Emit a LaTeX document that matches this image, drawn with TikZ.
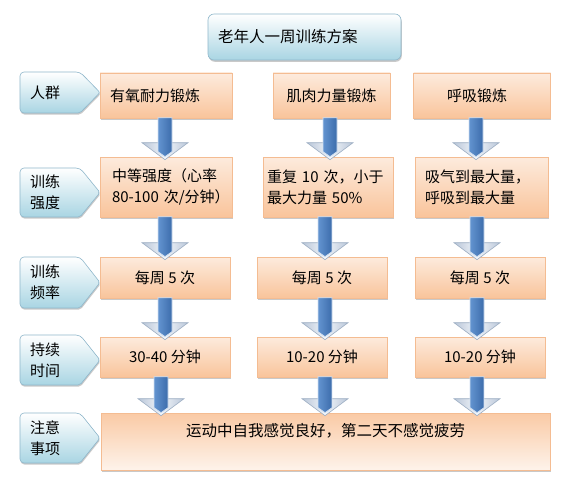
\documentclass[tikz,border=0pt]{standalone}
\usepackage{fontspec}
\setmainfont{Noto Sans CJK SC}
\usetikzlibrary{shadows,calc}
\definecolor{otop}{HTML}{FDEBDD}
\definecolor{obot}{HTML}{F9C49B}
\definecolor{oline}{HTML}{F4BC92}
\definecolor{btop}{HTML}{FFFFFF}
\definecolor{bbot}{HTML}{A9D5E3}
\definecolor{bline}{HTML}{8FB7CB}
\definecolor{shaftL}{HTML}{6394D0}
\definecolor{shaftR}{HTML}{3C6CAB}
\definecolor{headL}{HTML}{F4F6FA}
\definecolor{headD}{HTML}{B9C7D9}
\definecolor{headline}{HTML}{9DAEC3}
\tikzset{
  txt/.style={font=\fontsize{15}{21}\selectfont, text=black},
  obox/.style={txt, draw=oline, line width=0.6pt, top color=otop, bottom color=obot,
     drop shadow={shadow xshift=0.6pt, shadow yshift=-1.6pt, opacity=0.35, fill=black!60},
     inner sep=0pt},
  lshape/.style={draw=bline, line width=0.6pt, top color=btop, bottom color=bbot,
     drop shadow={shadow xshift=0.6pt, shadow yshift=-1.6pt, opacity=0.35, fill=black!60}},
  ltext/.style={txt, anchor=west, inner sep=0pt, align=left},
  titlebox/.style={txt, font=\fontsize{15.5}{20}\selectfont, draw=bline, line width=0.6pt,
     rounded corners=6pt, top color=btop, bottom color=bbot,
     drop shadow={shadow xshift=0.8pt, shadow yshift=-1.8pt, opacity=0.35, fill=black!60}},
}
% pentagon label: #1 name, #2 top y, #3 bottom y, #4 text
\newcommand\lablock[4]{%
  \path[lshape] (20,#2) [rounded corners=4pt] -- (80,#2) [rounded corners=2pt] -- (100,{(#2+#3)/2})
     [rounded corners=2pt]-- (80,#3) [rounded corners=4pt] -- (20,#3) -- cycle;
  \node[ltext] (#1) at (30,{(#2+#3)/2}) {#4};
}
% arrow: #1 x (px), #2 from node, #3 to node
\newcommand\flowarrow[3]{%
  \path let \p1=(#2.south), \p2=(#3.north) in
    [draw=headline, line width=0.6pt, left color=headD, right color=headD, middle color=headL]
      ({#1pt-23pt},{\y2+14pt}) -- ({#1pt+23pt},{\y2+14pt}) -- ({#1pt},{\y2-3pt}) -- cycle;
  \path let \p1=(#2.south), \p2=(#3.north) in
    [draw=white!70!shaftL, line width=0.8pt, left color=shaftL, right color=shaftR]
      ({#1pt-7pt},{\y1+0.5pt}) -- ({#1pt+7pt},{\y1+0.5pt}) -- ({#1pt+7pt},{\y2+5pt})
      -- ({#1pt},{\y2+0pt}) -- ({#1pt-7pt},{\y2+5pt}) -- cycle;
}
\begin{document}
\begin{tikzpicture}[x=1pt,y=-1pt]
\useasboundingbox[fill=white] (0,0) rectangle (567,484);

% title
\node[titlebox, minimum width=193pt, minimum height=46pt, text width=173pt, inner xsep=10pt, align=left]
  (title) at (304.5,37) {老年人一周训练方案};

% labels
\lablock{l1}{72}{113}{人群}
\lablock{l2}{168}{217}{训练\\强度}
\lablock{l3}{257}{308}{训练\\频率}
\lablock{l4}{335}{385}{持续\\时间}
\lablock{l5}{413}{463}{注意\\事项}

% row 1
\node[obox, minimum width=132pt, minimum height=45pt, text width=112pt, align=left] (a1) at (166,95.5) {有氧耐力锻炼};
\node[obox, minimum width=117pt, minimum height=45pt] (b1) at (331.5,95.5) {肌肉力量锻炼};
\node[obox, minimum width=137pt, minimum height=45pt] (c1) at (482,95.5) {\hspace*{-10pt}呼吸锻炼};

% row 2
\node[obox, minimum width=132pt, minimum height=60pt, text width=128pt, align=left] (a2) at (166,187)
  {\hspace*{10pt}\mbox{中等强度（心率}\\\hspace*{10pt}\mbox{80-100 次/分钟）}\\[-4pt]};
\node[obox, minimum width=130pt, minimum height=60pt, text width=122pt, align=left] (b2) at (328,187) {重复 10 次，小于\\最大力量 50\%};
\node[obox, minimum width=133pt, minimum height=60pt, text width=113pt, align=left] (c2) at (481.5,187) {吸气到最大量，\\呼吸到最大量};

% row 3
\node[obox, minimum width=130pt, minimum height=41pt] (a3) at (165,277.5) {每周 5 次};
\node[obox, minimum width=130pt, minimum height=41pt] (b3) at (322,277.5) {每周 5 次};
\node[obox, minimum width=130pt, minimum height=41pt] (c3) at (480,277.5) {每周 5 次};

% row 4
\node[obox, minimum width=130pt, minimum height=40pt] (a4) at (165,357) {30-40 分钟};
\node[obox, minimum width=130pt, minimum height=40pt] (b4) at (322,357) {10-20 分钟};
\node[obox, minimum width=130pt, minimum height=40pt] (c4) at (480,357) {10-20 分钟};

% row 5
\node[obox, font=\fontsize{15.5}{21}\selectfont, minimum width=449pt, minimum height=57pt, shading angle=200, top color=obot!85!otop, bottom color=otop!60!white, text depth=24pt]
  (d5) at (325.5,441.5) {运动中自我感觉良好，第二天不感觉疲劳};

% arrows
\flowarrow{165}{a1}{a2}
\flowarrow{330}{b1}{b2}
\flowarrow{476}{c1}{c2}
\flowarrow{165}{a2}{a3}
\flowarrow{325}{b2}{b3}
\flowarrow{477}{c2}{c3}
\flowarrow{165}{a3}{a4}
\flowarrow{325}{b3}{b4}
\flowarrow{477}{c3}{c4}
\flowarrow{161}{a4}{d5}
\flowarrow{325}{b4}{d5}
\flowarrow{477}{c4}{d5}
\end{tikzpicture}
\end{document}
